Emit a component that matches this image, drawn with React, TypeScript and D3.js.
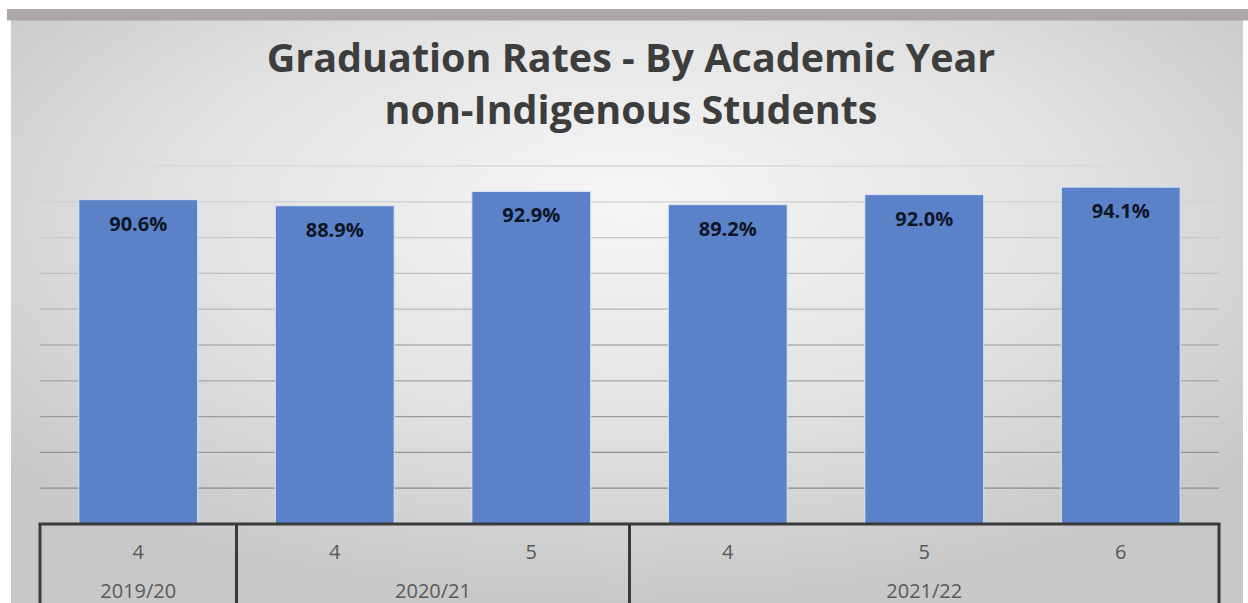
import React from "react";
import * as d3 from "d3";

const subCategories = ["4", "4", "5", "4", "5", "6"];
const yearOfBar = ["2019/20", "2020/21", "2020/21", "2021/22", "2021/22", "2021/22"];
const yearGroups = ["2019/20", "2020/21", "2021/22"];
const rates = [90.6, 88.9, 92.9, 89.2, 92.0, 94.1];
const yTicks = [0, 10, 20, 30, 40, 50, 60, 70, 80, 90, 100];
const titleLines = ["Graduation Rates - By Academic Year", "non-Indigenous Students"];

const W = 1248;
const H = 603;
const plotLeft = 40;
const plotRight = 1219;
const plotTop = 166;
const plotBottom = 524;

export default function App() {
  const idx = d3.range(rates.length).map(String);
  const x = d3.scaleBand<string>().domain(idx).range([plotLeft, plotRight]).paddingInner(0.395).paddingOuter(0.1975);
  const slot = d3.scaleBand<string>().domain(idx).range([plotLeft, plotRight]).padding(0);
  const y = d3.scaleLinear().domain([0, 100]).range([plotBottom, plotTop]);
  const gridColor = d3.scaleLinear<string>().domain([100, 0]).range(["#dadada", "#828282"]);

  const groups = yearGroups.map((g) => {
    const members = idx.filter((i) => yearOfBar[+i] === g);
    const x0 = slot(members[0])!;
    const x1 = slot(members[members.length - 1])! + slot.bandwidth();
    return { g, x0, x1 };
  });

  const font = "'Open Sans', 'Noto Sans', sans-serif";

  return (
    <svg width={W} height={H} style={{ position: "absolute", left: 0, top: 0 }} fontFamily={font}>
      <defs>
        <radialGradient id="bg" cx="50%" cy="35%" r="65%" fx="50%" fy="30%">
          <stop offset="0%" stopColor="#f6f6f6" />
          <stop offset="55%" stopColor="#e2e2e2" />
          <stop offset="100%" stopColor="#c8c8c8" />
        </radialGradient>
      </defs>
      <rect x={0} y={0} width={W} height={H} fill="#ffffff" />
      <rect x={11} y={20} width={1232} height={H - 20} fill="url(#bg)" />
      <rect x={7} y={9} width={W - 7} height={11.5} fill="#aca6a6" />

      {titleLines.map((t, i) => (
        <text key={t} x={631} y={72 + i * 52} textAnchor="middle" fontSize={39.5} fontWeight={700} fill="#3d3d3d">
          {t}
        </text>
      ))}

      {yTicks.filter((t) => t > 0).map((t) => (
        <line key={t} x1={plotLeft} x2={plotRight} y1={y(t)} y2={y(t)} stroke={gridColor(t)} strokeWidth={1.3} />
      ))}

      {rates.map((v, i) => (
        <g key={i}>
          <rect
            x={x(String(i))!}
            y={y(v)}
            width={x.bandwidth()}
            height={y(0) - y(v)}
            fill="#5b82c9"
            stroke="#dbe6f4"
            strokeWidth={1}
          />
          <text
            x={x(String(i))! + x.bandwidth() / 2}
            y={y(v) + 31}
            textAnchor="middle"
            fontSize={20}
            fontWeight={700}
            fill="#0e1526"
          >
            {d3.format(".1f")(v)}%
          </text>
        </g>
      ))}

      <line x1={plotLeft - 1.5} x2={plotRight + 1.5} y1={plotBottom} y2={plotBottom} stroke="#3a3a3a" strokeWidth={3} />
      <line x1={plotLeft} x2={plotLeft} y1={plotBottom} y2={H} stroke="#3a3a3a" strokeWidth={3} />
      {groups.map((gr) => (
        <line key={gr.g} x1={gr.x1} x2={gr.x1} y1={plotBottom} y2={H} stroke="#3a3a3a" strokeWidth={3} />
      ))}
      {subCategories.map((c, i) => (
        <text key={i} x={slot(String(i))! + slot.bandwidth() / 2} y={559} textAnchor="middle" fontSize={20} fill="#595959">
          {c}
        </text>
      ))}
      {groups.map((gr) => (
        <text key={gr.g} x={(gr.x0 + gr.x1) / 2} y={598} textAnchor="middle" fontSize={20} fill="#595959">
          {gr.g}
        </text>
      ))}
    </svg>
  );
}
